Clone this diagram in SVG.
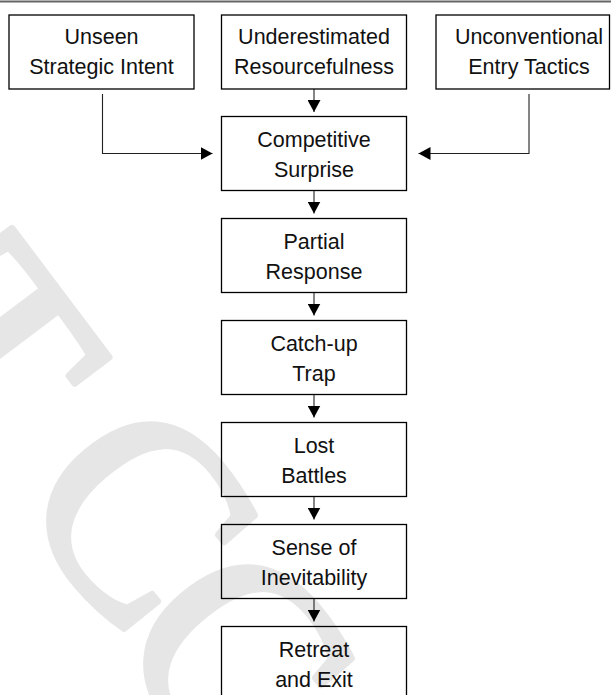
<svg xmlns="http://www.w3.org/2000/svg" width="611" height="695" viewBox="0 0 611 695">
<defs>
<marker id="ah" markerUnits="userSpaceOnUse" markerWidth="13" markerHeight="13" refX="12" refY="6.5" orient="auto" viewBox="0 0 13 13">
<path d="M0,0 L12,6.5 L0,13 z" fill="#000"/>
</marker>
<style>
.box{fill:none;stroke:#000;stroke-width:1.3}
.lbl{font-family:"Liberation Sans",Arial,sans-serif;font-size:21.5px;fill:#111;text-anchor:middle}
.wm{font-family:"Liberation Serif","Times New Roman",serif;font-size:280px;fill:#e6e6e6;stroke:#e6e6e6;stroke-width:7;stroke-linejoin:round;text-anchor:middle}
.conn{fill:none;stroke:#222;stroke-width:1.1}
</style>
</defs>
<rect width="611" height="695" fill="#fff"/>
<g id="watermark">
<text class="wm" transform="translate(-86,403) rotate(53)">T</text>
<text class="wm" transform="translate(70,573) rotate(50)">C</text>
<text class="wm" transform="translate(167,716) rotate(50)">C</text>
</g>
<line x1="0" y1="1.5" x2="611" y2="1.5" stroke="#666" stroke-width="2"/>
<g id="connectors">
<path class="conn" d="M102.5,94 V153.5 H212.5" marker-end="url(#ah)"/>
<path class="conn" d="M529,94 V153.5 H418.5" marker-end="url(#ah)"/>
<path class="conn" d="M314,89 V112" marker-end="url(#ah)"/>
<path class="conn" d="M314,190.5 V213.5" marker-end="url(#ah)"/>
<path class="conn" d="M314,292.5 V315.5" marker-end="url(#ah)"/>
<path class="conn" d="M314,394.5 V417.5" marker-end="url(#ah)"/>
<path class="conn" d="M314,496.5 V519.5" marker-end="url(#ah)"/>
<path class="conn" d="M314,598.5 V621.5" marker-end="url(#ah)"/>
</g>
<g id="unseen">
<rect class="box" x="9" y="15" width="185" height="74"/>
<text class="lbl" x="101.5" y="44">Unseen</text>
<text class="lbl" x="101.5" y="74">Strategic Intent</text>
</g>
<g id="underestimated">
<rect class="box" x="221.5" y="15" width="185" height="74"/>
<text class="lbl" x="314" y="44">Underestimated</text>
<text class="lbl" x="314" y="74">Resourcefulness</text>
</g>
<g id="unconventional">
<rect class="box" x="436" y="15" width="173.5" height="74"/>
<text class="lbl" x="529" y="44">Unconventional</text>
<text class="lbl" x="529" y="74">Entry Tactics</text>
</g>
<g id="competitive">
<rect class="box" x="221.5" y="116.5" width="185" height="74"/>
<text class="lbl" x="314" y="146.5">Competitive</text>
<text class="lbl" x="314" y="176.5">Surprise</text>
</g>
<g id="partial">
<rect class="box" x="221.5" y="218.5" width="185" height="74"/>
<text class="lbl" x="314" y="248.5">Partial</text>
<text class="lbl" x="314" y="278.5">Response</text>
</g>
<g id="catchup">
<rect class="box" x="221.5" y="320.5" width="185" height="74"/>
<text class="lbl" x="314" y="350.5">Catch-up</text>
<text class="lbl" x="314" y="380.5">Trap</text>
</g>
<g id="lost">
<rect class="box" x="221.5" y="422.5" width="185" height="74"/>
<text class="lbl" x="314" y="452.5">Lost</text>
<text class="lbl" x="314" y="482.5">Battles</text>
</g>
<g id="sense">
<rect class="box" x="221.5" y="524.5" width="185" height="74"/>
<text class="lbl" x="314" y="554.5">Sense of</text>
<text class="lbl" x="314" y="584.5">Inevitability</text>
</g>
<g id="retreat">
<rect class="box" x="221.5" y="626.5" width="185" height="74"/>
<text class="lbl" x="314" y="656.5">Retreat</text>
<text class="lbl" x="314" y="686.5">and Exit</text>
</g>
</svg>
